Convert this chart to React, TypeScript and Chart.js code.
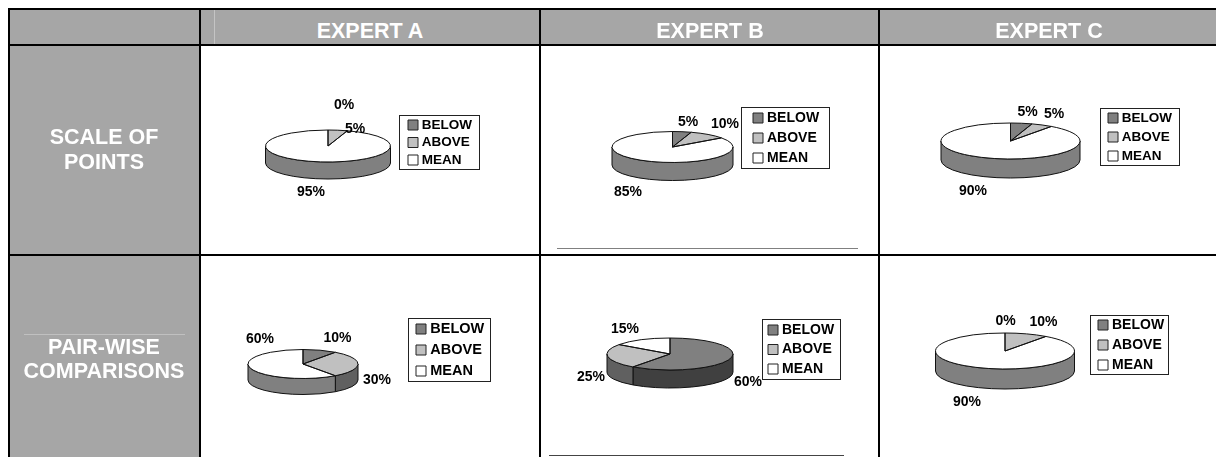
import React, { useEffect, useRef } from "react";
import { Chart, registerables } from "chart.js";

Chart.register(...registerables);

const FONT = "'Liberation Sans', Arial, sans-serif";
const categories = ["BELOW", "ABOVE", "MEAN"];
const experts = ["EXPERT A", "EXPERT B", "EXPERT C"];
const scaleOfPointsA = [0, 5, 95];
const scaleOfPointsB = [5, 10, 85];
const scaleOfPointsC = [5, 5, 90];
const pairWiseA = [10, 30, 60];
const pairWiseB = [60, 25, 15];
const pairWiseC = [0, 10, 90];
const topColors = ["#808080", "#c0c0c0", "#ffffff"];
const sideColors = ["#404040", "#606060", "#808080"];

type Panel = {
  values: number[];
  cell: [number, number, number, number];
  pie: [number, number, number, number, number];
  box: [number, number, number, number];
  square: number;
  rows: [number, number];
  legendFont: number;
  labels: [number, number][];
};

const panels: Panel[] = [
  { values: scaleOfPointsA, cell: [201, 46, 339, 208], pie: [328, 146, 62.5, 16, 17], box: [399, 115, 80, 54], square: 408, rows: [125, 17.5], legendFont: 13.5, labels: [[344, 105], [355, 129], [311, 192]] },
  { values: scaleOfPointsB, cell: [542, 46, 337, 208], pie: [672.5, 147, 60.5, 15.5, 18], box: [741, 107, 88, 61], square: 753, rows: [118, 20], legendFont: 14, labels: [[688, 122], [725, 124], [628, 192]] },
  { values: scaleOfPointsC, cell: [881, 46, 335, 208], pie: [1010.5, 141, 69.5, 18, 19], box: [1100, 108, 79, 57], square: 1108, rows: [118, 19], legendFont: 13.5, labels: [[1027.5, 112], [1054, 114], [973, 191]] },
  { values: pairWiseA, cell: [201, 256, 339, 201], pie: [303, 364, 55, 14.5, 16], box: [408, 318, 81.5, 63], square: 416, rows: [329, 21], legendFont: 14.5, labels: [[337.5, 338], [377, 380], [260, 339]] },
  { values: pairWiseB, cell: [542, 256, 337, 201], pie: [670, 354, 63, 16, 18], box: [761.5, 319, 77.5, 60], square: 768, rows: [330, 19.5], legendFont: 14, labels: [[748, 382], [591, 377], [625, 329]] },
  { values: pairWiseC, cell: [881, 256, 335, 201], pie: [1005, 351, 69.5, 18, 20], box: [1090, 315, 78, 59], square: 1098, rows: [325, 20], legendFont: 14, labels: [[1005.5, 321], [1043.5, 322], [967, 402]] },
];

const LEG_PAD_MIN = 4;

function pieChart(canvas: HTMLCanvasElement, p: Panel) {
  const [ox, oy] = p.cell;
  const [cxP, cyP, rx, ry, depth] = p.pie;
  const cx = cxP - ox;
  const cy = cyP - oy;
  const rowPad = Math.max(LEG_PAD_MIN, p.rows[1] - p.legendFont);
  const perspective = {
    id: "perspective",
    afterLayout(chart: any) {
      const lg = chart.legend;
      const w = lg.width;
      const h = lg.height;
      lg.left = p.square - ox - rowPad + 3;
      lg.right = lg.left + w;
      lg.top = p.rows[0] - oy - rowPad - p.legendFont / 2;
      lg.bottom = lg.top + h;
    },
    beforeDraw(chart: any) {
      const ctx = chart.ctx;
      const [l, t, w, h] = p.box;
      ctx.save();
      ctx.fillStyle = "#ffffff";
      ctx.strokeStyle = "#222222";
      ctx.lineWidth = 1;
      ctx.fillRect(l - ox, t - oy, w, h);
      ctx.strokeRect(Math.round(l - ox) + 0.5, Math.round(t - oy) + 0.5, Math.round(w), Math.round(h));
      ctx.restore();
    },
    beforeDatasetsDraw(chart: any) {
      const ctx = chart.ctx;
      const arcs = chart.getDatasetMeta(0).data;
      arcs.forEach((arc: any, i: number) => {
        const two = Math.PI * 2;
        const s = arc.startAngle;
        const e = arc.endAngle;
        if (e - s <= 0) return;
        [0, two, -two].forEach((shift) => {
          const a0 = Math.max(s + shift, 0);
          const a1 = Math.min(e + shift, Math.PI);
          if (a1 <= a0) return;
          ctx.beginPath();
          ctx.ellipse(cx, cy, rx, ry, 0, a0, a1);
          ctx.ellipse(cx, cy + depth, rx, ry, 0, a1, a0, true);
          ctx.closePath();
          ctx.fillStyle = sideColors[i];
          ctx.fill();
          ctx.strokeStyle = "#111111";
          ctx.lineWidth = 1;
          ctx.stroke();
        });
      });
      const first = arcs[0];
      ctx.save();
      ctx.translate(cx, cy);
      ctx.scale(1, ry / rx);
      ctx.translate(-first.x, -first.y);
    },
    afterDatasetsDraw(chart: any) {
      const ctx = chart.ctx;
      ctx.restore();
      const arcs = chart.getDatasetMeta(0).data;
      ctx.strokeStyle = "#111111";
      ctx.lineWidth = 1;
      arcs.forEach((arc: any) => {
        if (arc.endAngle - arc.startAngle <= 0) return;
        ctx.beginPath();
        ctx.moveTo(cx, cy);
        ctx.ellipse(cx, cy, rx, ry, 0, arc.startAngle, arc.endAngle);
        ctx.closePath();
        ctx.stroke();
      });
    },
    afterDraw(chart: any) {
      const ctx = chart.ctx;
      ctx.save();
      ctx.fillStyle = "#000000";
      ctx.font = `bold 14px ${FONT}`;
      ctx.textAlign = "center";
      ctx.textBaseline = "middle";
      p.values.forEach((v, i) => {
        const [x, y] = p.labels[i];
        ctx.fillText(`${v}%`, x - ox, y - oy);
      });
      ctx.restore();
    },
  };
  return new Chart(canvas, {
    type: "pie",
    data: {
      labels: categories,
      datasets: [
        {
          data: p.values,
          backgroundColor: topColors,
          borderWidth: 0,
          clip: false,
        } as any,
      ],
    },
    options: {
      animation: false,
      responsive: false,
      radius: rx,
      plugins: {
        tooltip: { enabled: false },
        title: { display: false },
        legend: {
          display: true,
          position: "right",
          align: "start",
          labels: {
            color: "#000000",
            font: { family: FONT, weight: "bold", size: p.legendFont },
            boxWidth: 4,
            boxHeight: 10,
            usePointStyle: true,
            padding: rowPad,
            generateLabels: () =>
              categories.map((text, i) => ({
                text,
                index: i,
                fillStyle: topColors[i],
                strokeStyle: "#222222",
                lineWidth: 1,
                pointStyle: "rect",
                hidden: false,
              })),
          },
        },
      },
    } as any,
    plugins: [perspective],
  });
}

function PieCell({ panel }: { panel: Panel }) {
  const ref = useRef<HTMLCanvasElement>(null);
  useEffect(() => {
    const chart = pieChart(ref.current as HTMLCanvasElement, panel);
    return () => chart.destroy();
  }, [panel]);
  const [x, y, w, h] = panel.cell;
  return (
    <canvas
      ref={ref}
      width={w}
      height={h}
      style={{ position: "absolute", left: x, top: y, width: w, height: h, display: "block" }}
    />
  );
}

const rect = (left: number, top: number, width: number, height: number, background: string) => (
  <div style={{ position: "absolute", left, top, width, height, background }} />
);

const headText = (text: string, cx: number, cy: number) => (
  <div
    key={text}
    style={{
      position: "absolute",
      left: cx - 120,
      top: cy - 15,
      width: 240,
      height: 30,
      lineHeight: "30px",
      textAlign: "center",
      color: "#ffffff",
      fontFamily: FONT,
      fontWeight: "bold",
      fontSize: 21.5,
      whiteSpace: "nowrap",
    }}
  >
    {text}
  </div>
);

export default function App() {
  return (
    <div style={{ position: "absolute", left: 0, top: 0, width: 1216, height: 457, overflow: "hidden", background: "#ffffff" }}>
      {rect(10, 10, 1206, 34, "#a6a6a6")}
      {rect(10, 45, 189, 412, "#a6a6a6")}
      {rect(214, 10, 1, 34, "#c4c4c4")}
      {rect(24, 334, 161, 1, "#c0c0c0")}
      {panels.map((p, i) => (
        <PieCell key={i} panel={p} />
      ))}
      {rect(8, 8, 1208, 2, "#000000")}
      {rect(8, 8, 2, 449, "#000000")}
      {rect(10, 44, 1206, 2, "#000000")}
      {rect(10, 254, 1206, 2, "#000000")}
      {rect(199, 8, 2, 449, "#000000")}
      {rect(539, 8, 2, 449, "#000000")}
      {rect(878, 8, 2, 449, "#000000")}
      {rect(557, 248, 301, 1, "#808080")}
      {rect(549, 455, 295, 1, "#444444")}
      {headText(experts[0], 370, 31)}
      {headText(experts[1], 710, 31)}
      {headText(experts[2], 1049, 31)}
      {headText("SCALE OF", 104, 137)}
      {headText("POINTS", 104, 162)}
      {headText("PAIR-WISE", 104, 347)}
      {headText("COMPARISONS", 104, 371)}
    </div>
  );
}
